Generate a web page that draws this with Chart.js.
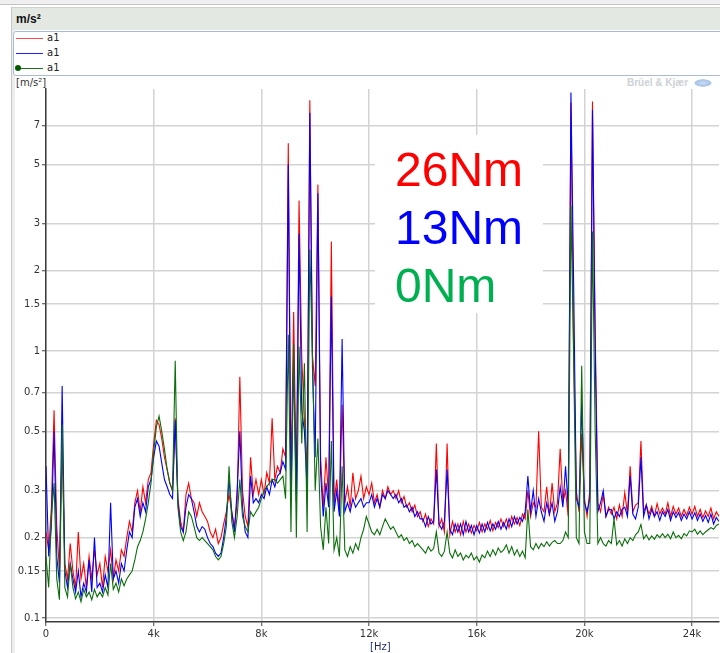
<!DOCTYPE html>
<html>
<head>
<meta charset="utf-8">
<script src="https://cdn.jsdelivr.net/npm/chart.js@4.4.0/dist/chart.umd.min.js"></script>
<style>
    html, body { margin: 0; padding: 0; background: #fff; }
    body { width: 720px; height: 653px; position: relative; overflow: hidden; font-family: 'DejaVu Sans', sans-serif; }
    #topstrip { position: absolute; left: 0; top: 0; width: 720px; height: 4px; background: #efefef; border-bottom: 1px solid #c4c4c4; }
    #panel { position: absolute; left: 11px; top: 7px; width: 3px; bottom: 0; border-left: 1px solid #c6c6c6; background: #eeeeee; }
    #titlebar { position: absolute; left: 12px; top: 7px; width: 708px; height: 23px; background: #e4e8e2; border-top: 1px solid #cfd3cd; box-sizing: border-box; font: bold 12px 'Liberation Sans', sans-serif; line-height: 22px; padding-left: 4px; color: #111; }
    #legend { position: absolute; left: 13px; top: 31px; width: 720px; height: 45px; border: 1px solid #a9bcd2; border-radius: 3px; box-sizing: border-box; background: #fff; }
    .swatch { position: absolute; left: 2px; width: 27px; height: 1px; }
    .dot { position: absolute; left: 1px; width: 6px; height: 6px; border-radius: 50%; background: #005a00; }
    .lbl { position: absolute; left: 33px; font-size: 10px; line-height: 12px; color: #222; }
    #yunit { position: absolute; left: 16px; top: 77px; font-size: 10px; line-height: 12px; color: #333; }
    #brand { position: absolute; left: 627px; top: 77px; font: bold 10px 'Liberation Sans', sans-serif; line-height: 12px; color: #cdd1d6; }
    #brandlogo { position: absolute; left: 694px; top: 79px; width: 18px; height: 8px; border-radius: 50%; background: radial-gradient(#c9dcf2, #a7c3e8 60%, rgba(167,195,232,0) 72%); }
    #spectrum { position: absolute; left: 0; top: 0; }
    #torque { position: absolute; left: 375px; top: 135px; width: 168px; height: 178px; background: #fff; }
    .tq { position: absolute; left: 20px; font: 48px 'Liberation Sans', Arial, sans-serif; line-height: 58px; white-space: nowrap; }
    #xunit { position: absolute; left: 370px; top: 641px; font-size: 10px; line-height: 12px; color: #1c2a5a; }
</style>
</head>
<body>
<div id="topstrip"></div>
<div id="panel"></div>
<div id="titlebar">m/s²</div>
<div id="legend">
    <div class="swatch" style="top:6px;background:#ff4a4a"></div><div class="lbl" style="top:0px">a1</div>
    <div class="swatch" style="top:21px;background:#2020ff"></div><div class="lbl" style="top:15px">a1</div>
    <div class="swatch" style="top:36px;background:#1f6f1f"></div><div class="dot" style="top:33px"></div><div class="lbl" style="top:30px">a1</div>
</div>
<div id="yunit">[m/s²]</div>
<div id="brand">Brüel &amp; Kjær</div>
<div id="brandlogo"></div>
<canvas id="spectrum" width="720" height="653"></canvas>
<div id="torque">
    <div class="tq" style="top:6px;color:#ff0000">26Nm</div>
    <div class="tq" style="top:64px;color:#0000ff">13Nm</div>
    <div class="tq" style="top:122px;color:#00b050">0Nm</div>
</div>
<div id="xunit">[Hz]</div>

<script>
// Frequency grid (Hz), one sample every 100 Hz from 0 to 25 kHz
const FREQ_STEP = 100;
const freqHz = Array.from({ length: 251 }, (_, i) => i * FREQ_STEP);

const xTicks = [0, 4000, 8000, 12000, 16000, 20000, 24000];
const yTicks = [0.1, 0.15, 0.2, 0.3, 0.5, 0.7, 1, 1.5, 2, 3, 5, 7];

// 26Nm (red), m/s^2, one row per kHz
const red26 = [
    0.21, 0.18, 0.26, 0.60, 0.22, 0.15, 0.45, 0.16, 0.14, 0.19,
    0.15, 0.13, 0.21, 0.14, 0.16, 0.13, 0.17, 0.14, 0.18, 0.145,
    0.16, 0.13, 0.17, 0.15, 0.18, 0.14, 0.165, 0.15, 0.18, 0.17,
    0.20, 0.23, 0.21, 0.27, 0.30, 0.25, 0.31, 0.27, 0.33, 0.35,
    0.45, 0.55, 0.53, 0.47, 0.40, 0.36, 0.32, 0.30, 0.56, 0.28,
    0.23, 0.21, 0.29, 0.32, 0.28, 0.27, 0.24, 0.27, 0.25, 0.24,
    0.23, 0.21, 0.20, 0.215, 0.19, 0.20, 0.225, 0.25, 0.29, 0.25,
    0.22, 0.27, 0.80, 0.30, 0.24, 0.22, 0.40, 0.29, 0.33, 0.29,
    0.33, 0.29, 0.35, 0.32, 0.56, 0.33, 0.37, 0.35, 0.43, 0.40,
    6.0, 0.33, 1.40, 0.30, 3.66, 0.95, 0.55, 0.35, 8.7, 0.95,
    0.74, 4.2, 0.40, 0.26, 0.40, 0.28, 2.57, 0.27, 0.33, 0.25,
    0.63, 0.27, 0.31, 0.26, 0.35, 0.28, 0.30, 0.34, 0.28, 0.31,
    0.29, 0.32, 0.27, 0.29, 0.26, 0.30, 0.28, 0.31, 0.29, 0.30,
    0.28, 0.30, 0.27, 0.285, 0.26, 0.27, 0.25, 0.265, 0.24, 0.25,
    0.23, 0.245, 0.22, 0.235, 0.225, 0.45, 0.22, 0.235, 0.21, 0.45,
    0.205, 0.23, 0.21, 0.225, 0.205, 0.23, 0.21, 0.225, 0.208, 0.222,
    0.212, 0.228, 0.21, 0.225, 0.215, 0.232, 0.212, 0.228, 0.218, 0.235,
    0.22, 0.235, 0.218, 0.24, 0.225, 0.238, 0.222, 0.245, 0.235, 0.30,
    0.24, 0.27, 0.26, 0.50, 0.26, 0.25, 0.31, 0.24, 0.32, 0.25,
    0.27, 0.43, 0.27, 0.30, 0.24, 8.5, 1.0, 0.30, 0.25, 0.49,
    0.28, 0.24, 0.30, 8.6, 1.2, 0.27, 0.25, 0.29, 0.24, 0.26,
    0.245, 0.26, 0.235, 0.265, 0.24, 0.295, 0.245, 0.37, 0.25, 0.265,
    0.27, 0.46, 0.25, 0.265, 0.245, 0.262, 0.24, 0.268, 0.245, 0.258,
    0.245, 0.27, 0.24, 0.262, 0.245, 0.258, 0.24, 0.255, 0.242, 0.26,
    0.245, 0.262, 0.24, 0.255, 0.238, 0.252, 0.24, 0.258, 0.235, 0.25,
    0.24
];

// 13Nm (blue)
const blue13 = [
    0.37, 0.17, 0.22, 0.50, 0.17, 0.135, 0.74, 0.15, 0.13, 0.16,
    0.14, 0.125, 0.15, 0.12, 0.135, 0.125, 0.165, 0.125, 0.20, 0.13,
    0.135, 0.125, 0.145, 0.13, 0.27, 0.14, 0.15, 0.135, 0.16, 0.15,
    0.18, 0.21, 0.20, 0.26, 0.28, 0.24, 0.27, 0.25, 0.31, 0.33,
    0.40, 0.46, 0.44, 0.38, 0.33, 0.31, 0.29, 0.28, 0.55, 0.27,
    0.22, 0.21, 0.26, 0.29, 0.28, 0.25, 0.22, 0.21, 0.22, 0.215,
    0.20, 0.19, 0.185, 0.175, 0.17, 0.175, 0.20, 0.24, 0.33, 0.25,
    0.21, 0.30, 0.50, 0.26, 0.21, 0.20, 0.34, 0.27, 0.28, 0.27,
    0.29, 0.28, 0.31, 0.29, 0.33, 0.31, 0.34, 0.35, 0.385, 0.36,
    5.0, 0.28, 0.92, 0.27, 2.75, 0.60, 0.50, 0.30, 7.8, 0.85,
    0.40, 3.9, 0.35, 0.24, 0.32, 0.26, 1.6, 0.25, 0.30, 0.24,
    1.11, 0.25, 0.27, 0.25, 0.28, 0.26, 0.27, 0.28, 0.26, 0.27,
    0.27, 0.29, 0.26, 0.28, 0.26, 0.29, 0.28, 0.30, 0.29, 0.28,
    0.29, 0.27, 0.28, 0.26, 0.265, 0.25, 0.26, 0.24, 0.25, 0.235,
    0.235, 0.22, 0.24, 0.225, 0.23, 0.36, 0.225, 0.215, 0.23, 0.36,
    0.215, 0.205, 0.225, 0.21, 0.225, 0.205, 0.23, 0.21, 0.222, 0.205,
    0.222, 0.208, 0.225, 0.21, 0.228, 0.212, 0.225, 0.215, 0.23, 0.215,
    0.228, 0.215, 0.235, 0.22, 0.24, 0.225, 0.238, 0.23, 0.25, 0.34,
    0.25, 0.30, 0.24, 0.28, 0.25, 0.23, 0.27, 0.245, 0.27, 0.23,
    0.25, 0.31, 0.26, 0.37, 0.26, 9.3, 1.8, 0.28, 0.26, 0.64,
    0.27, 0.25, 0.28, 8.0, 1.03, 0.25, 0.27, 0.30, 0.24, 0.255,
    0.255, 0.235, 0.25, 0.24, 0.255, 0.26, 0.24, 0.34, 0.245, 0.235,
    0.26, 0.40, 0.24, 0.265, 0.235, 0.255, 0.24, 0.25, 0.232, 0.25,
    0.24, 0.255, 0.232, 0.25, 0.238, 0.248, 0.232, 0.245, 0.235, 0.25,
    0.235, 0.248, 0.232, 0.245, 0.23, 0.242, 0.228, 0.245, 0.225, 0.238,
    0.23
];

// 0Nm (green)
const green0 = [
    0.17, 0.13, 0.24, 0.32, 0.14, 0.117, 0.53, 0.13, 0.12, 0.16,
    0.13, 0.118, 0.125, 0.115, 0.128, 0.12, 0.125, 0.117, 0.128, 0.12,
    0.125, 0.12, 0.13, 0.122, 0.16, 0.128, 0.135, 0.125, 0.14, 0.132,
    0.14, 0.145, 0.15, 0.165, 0.185, 0.195, 0.21, 0.235, 0.27, 0.32,
    0.42, 0.52, 0.57, 0.50, 0.43, 0.36, 0.32, 0.30, 0.92, 0.26,
    0.21, 0.195, 0.21, 0.25, 0.24, 0.22, 0.20, 0.195, 0.20, 0.195,
    0.19, 0.185, 0.18, 0.17, 0.165, 0.17, 0.19, 0.22, 0.37, 0.23,
    0.20, 0.24, 0.33, 0.24, 0.22, 0.21, 0.25, 0.24, 0.25, 0.26,
    0.28, 0.30, 0.31, 0.32, 0.33, 0.33, 0.32, 0.33, 0.34, 0.28,
    1.15, 0.21, 1.06, 0.20, 1.04, 0.45, 0.90, 0.21, 2.4, 0.95,
    0.30, 0.47, 0.22, 0.18, 0.26, 0.19, 0.46, 0.18, 0.20, 0.17,
    0.37, 0.18, 0.17, 0.185, 0.175, 0.19, 0.18, 0.20, 0.215, 0.24,
    0.225, 0.21, 0.205, 0.215, 0.205, 0.22, 0.235, 0.225, 0.215, 0.22,
    0.21, 0.20, 0.205, 0.195, 0.20, 0.19, 0.195, 0.185, 0.19, 0.185,
    0.18, 0.175, 0.185, 0.178, 0.182, 0.21, 0.175, 0.17, 0.178, 0.21,
    0.175, 0.168, 0.18, 0.17, 0.175, 0.165, 0.172, 0.168, 0.175, 0.165,
    0.17, 0.162, 0.172, 0.168, 0.178, 0.17, 0.18, 0.172, 0.183, 0.176,
    0.18, 0.188, 0.175, 0.185, 0.172, 0.18, 0.17, 0.178, 0.168, 0.255,
    0.185, 0.18, 0.19, 0.182, 0.19, 0.185, 0.193, 0.186, 0.192, 0.195,
    0.19, 0.19, 0.195, 0.21, 0.20, 3.5, 0.95, 0.20, 0.19, 0.88,
    0.21, 0.19, 0.19, 2.8, 0.50, 0.19, 0.20, 0.19, 0.186, 0.195,
    0.19, 0.235, 0.188, 0.195, 0.186, 0.198, 0.19, 0.20, 0.195, 0.205,
    0.21, 0.224, 0.198, 0.205, 0.196, 0.203, 0.197, 0.205, 0.20, 0.207,
    0.20, 0.206, 0.198, 0.21, 0.20, 0.204, 0.198, 0.207, 0.203, 0.212,
    0.21, 0.215, 0.206, 0.212, 0.205, 0.21, 0.214, 0.218, 0.215, 0.222,
    0.225
];

Chart.defaults.font.family = "'DejaVu Sans', sans-serif";
Chart.defaults.font.size = 10;
Chart.defaults.color = '#333';

const gridStyle = { color: '#d3d3d3', lineWidth: 1.5, tickLength: 4, tickColor: '#404040', tickWidth: 1 };
const borderStyle = { display: true, color: '#3c3c3c', width: 1.5 };

new Chart(document.getElementById('spectrum'), {
    type: 'line',
    data: {
        labels: freqHz,
        datasets: [
            { label: 'a1', data: red26, borderColor: '#ff0000', order: 2 },
            { label: 'a1', data: blue13, borderColor: '#0000ff', order: 1 },
            { label: 'a1', data: green0, borderColor: '#0b6e0b', order: 0 }
        ]
    },
    options: {
        responsive: false,
        animation: false,
        devicePixelRatio: 1,
        layout: { padding: { top: 89, right: 1, bottom: 0, left: 0 } },
        elements: {
            line: { borderWidth: 1.1, tension: 0, fill: false },
            point: { radius: 0, hoverRadius: 0 }
        },
        plugins: { legend: { display: false }, tooltip: { enabled: false } },
        scales: {
            x: {
                type: 'linear',
                min: 0,
                max: 25000,
                afterBuildTicks: s => { s.ticks = xTicks.map(v => ({ value: v })); },
                afterFit: s => { s.height = 31; },
                grid: gridStyle,
                border: borderStyle,
                ticks: {
                    autoSkip: false,
                    maxRotation: 0,
                    padding: 2,
                    callback: v => (v === 0 ? '0' : (v / 1000) + 'k')
                }
            },
            y: {
                type: 'logarithmic',
                min: 0.0966,
                max: 9.58,
                afterBuildTicks: s => { s.ticks = yTicks.map(v => ({ value: v })); },
                afterFit: s => { s.width = 46; },
                grid: gridStyle,
                border: borderStyle,
                ticks: {
                    autoSkip: false,
                    padding: 2,
                    callback: v => String(v)
                }
            }
        }
    }
});
</script>
</body>
</html>
